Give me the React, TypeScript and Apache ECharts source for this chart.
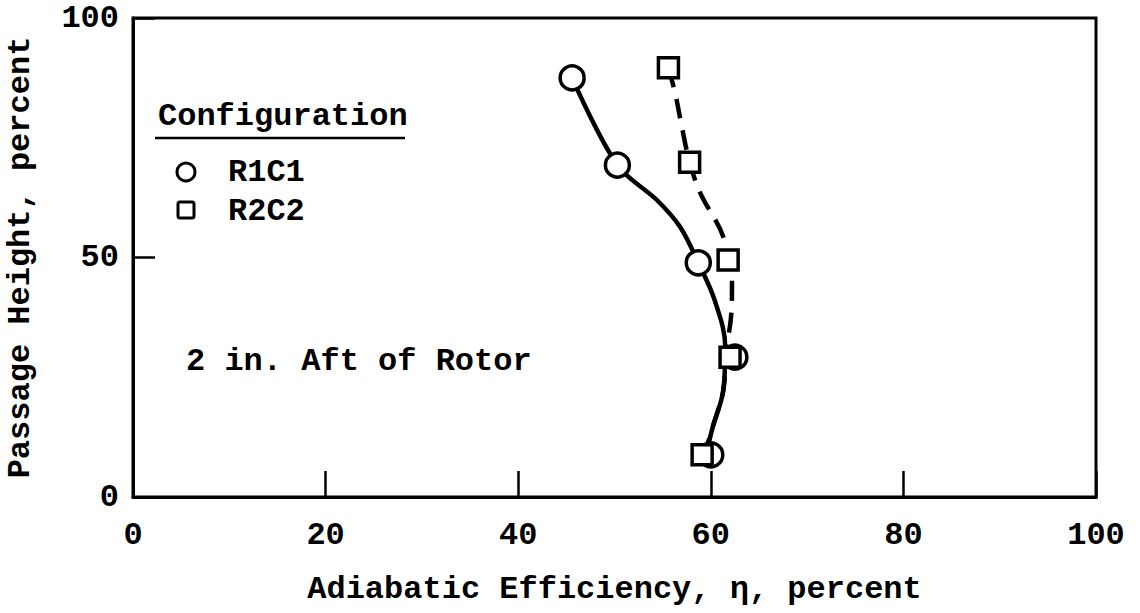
import React, { useEffect, useRef } from "react";
import * as echarts from "echarts";

const xTicks = [0, 20, 40, 60, 80, 100];
const yTicks = [0, 50, 100];
// measured points
const r1c1Efficiency = [45.6, 50.3, 58.7, 62.5, 60.0];
const r1c1Height = [87.5, 69.3, 48.9, 29.2, 8.8];
const r2c2Efficiency = [55.6, 57.8, 61.8, 62.0, 59.1];
const r2c2Height = [89.6, 69.9, 49.5, 29.2, 8.8];
// faired curves as traced in the figure
const r1c1CurveEff = [45.6, 50.3, 54.4, 56.8, 58.7, 60.4, 61.5, 61.3, 60.2, 59.5];
const r1c1CurveHeight = [87.5, 69.3, 62.0, 56.4, 48.9, 41.1, 31.3, 22.3, 14.6, 8.8];
const r2c2CurveEff = [55.6, 56.3, 57.0, 57.8, 58.9, 61.3, 62.2, 62.1, 61.6, 61.3, 60.2, 59.3];
const r2c2CurveHeight = [89.6, 84.3, 77.2, 69.9, 63.5, 54.3, 44.7, 37.6, 30.5, 22.3, 14.6, 8.8];
const xName = "Adiabatic Efficiency, \u03b7, percent";
const yName = "Passage Height, percent";
const legendTitle = "Configuration";
const seriesNames = ["R1C1", "R2C2"];
const note = "2 in. Aft of Rotor";

const FONT = "'Liberation Mono', 'DejaVu Sans Mono', monospace";
const FS = 32;

export default function App() {
  const ref = useRef<HTMLDivElement>(null);
  useEffect(() => {
    if (!ref.current) return;
    const chart = echarts.init(ref.current, null, { renderer: "svg" });
    const textStyle = { fontFamily: FONT, fontWeight: "bold", fontSize: FS, color: "#000" };
    const pairs = (xs: number[], ys: number[]) => xs.map((x, i) => [x, ys[i]]);
    chart.setOption({
      animation: false,
      backgroundColor: "#fff",
      grid: {
        left: 133,
        right: 44,
        top: 18,
        bottom: 116,
        show: true,
        borderColor: "#000",
        borderWidth: 3,
        outerBoundsMode: "none",
        containLabel: false,
      },
      xAxis: {
        type: "value",
        min: 0,
        max: 100,
        interval: 20,
        name: xName,
        nameLocation: "middle",
        nameGap: 76,
        nameTextStyle: textStyle,
        axisLine: { show: true, lineStyle: { color: "#000", width: 3 } },
        axisTick: { show: true, inside: true, length: 26, lineStyle: { color: "#000", width: 2.5 } },
        axisLabel: { ...textStyle, margin: 22, formatter: (v: number) => (xTicks.includes(v) ? String(v) : "") },
        splitLine: { show: false },
      },
      yAxis: {
        type: "value",
        min: 0,
        max: 100,
        interval: 50,
        name: yName,
        nameLocation: "middle",
        nameGap: 97,
        nameTextStyle: textStyle,
        axisLine: { show: true, lineStyle: { color: "#000", width: 3 } },
        axisTick: { show: true, inside: true, length: 22, lineStyle: { color: "#000", width: 2.5 } },
        axisLabel: { ...textStyle, margin: 14, formatter: (v: number) => (yTicks.includes(v) ? String(v) : "") },
        splitLine: { show: false },
      },
      series: [
        {
          name: seriesNames[0] + " curve",
          type: "line",
          smooth: 0.35,
          data: pairs(r1c1CurveEff, r1c1CurveHeight),
          showSymbol: false,
          symbol: "none",
          lineStyle: { color: "#000", width: 4.5 },
          z: 1,
        },
        {
          name: seriesNames[1] + " curve",
          type: "line",
          smooth: 0.35,
          data: pairs(r2c2CurveEff, r2c2CurveHeight),
          showSymbol: false,
          symbol: "none",
          lineStyle: { color: "#000", width: 4.5, type: [20, 12] },
          z: 1,
        },
        {
          name: seriesNames[0],
          type: "scatter",
          data: pairs(r1c1Efficiency, r1c1Height),
          symbol: "circle",
          symbolSize: 24,
          itemStyle: { color: "#fff", borderColor: "#000", borderWidth: 3.5, opacity: 1 },
          z: 3,
        },
        {
          name: seriesNames[1],
          type: "scatter",
          data: pairs(r2c2Efficiency, r2c2Height),
          symbol: "rect",
          symbolSize: 20,
          itemStyle: { color: "#fff", borderColor: "#000", borderWidth: 3.5, opacity: 1 },
          z: 4,
        },
      ],
      graphic: [
        {
          type: "text",
          left: 158,
          top: 100,
          style: { text: legendTitle, font: `bold ${FS}px ${FONT}`, fill: "#000" },
        },
        {
          type: "line",
          shape: { x1: 155, y1: 138, x2: 405, y2: 138 },
          style: { stroke: "#000", lineWidth: 2.5 },
        },
        {
          type: "circle",
          shape: { cx: 186, cy: 172, r: 9 },
          style: { fill: "#fff", stroke: "#000", lineWidth: 3 },
        },
        {
          type: "text",
          left: 228,
          top: 156,
          style: { text: seriesNames[0], font: `bold ${FS}px ${FONT}`, fill: "#000" },
        },
        {
          type: "rect",
          shape: { x: 178, y: 202, width: 16, height: 16, r: 2 },
          style: { fill: "#fff", stroke: "#000", lineWidth: 3 },
        },
        {
          type: "text",
          left: 228,
          top: 195,
          style: { text: seriesNames[1], font: `bold ${FS}px ${FONT}`, fill: "#000" },
        },
        {
          type: "text",
          left: 186,
          top: 345,
          style: { text: note, font: `bold ${FS}px ${FONT}`, fill: "#000" },
        },
      ],
    });
    return () => chart.dispose();
  }, []);
  return <div ref={ref} style={{ width: 1140, height: 613, position: "absolute", left: 0, top: 0 }} />;
}
